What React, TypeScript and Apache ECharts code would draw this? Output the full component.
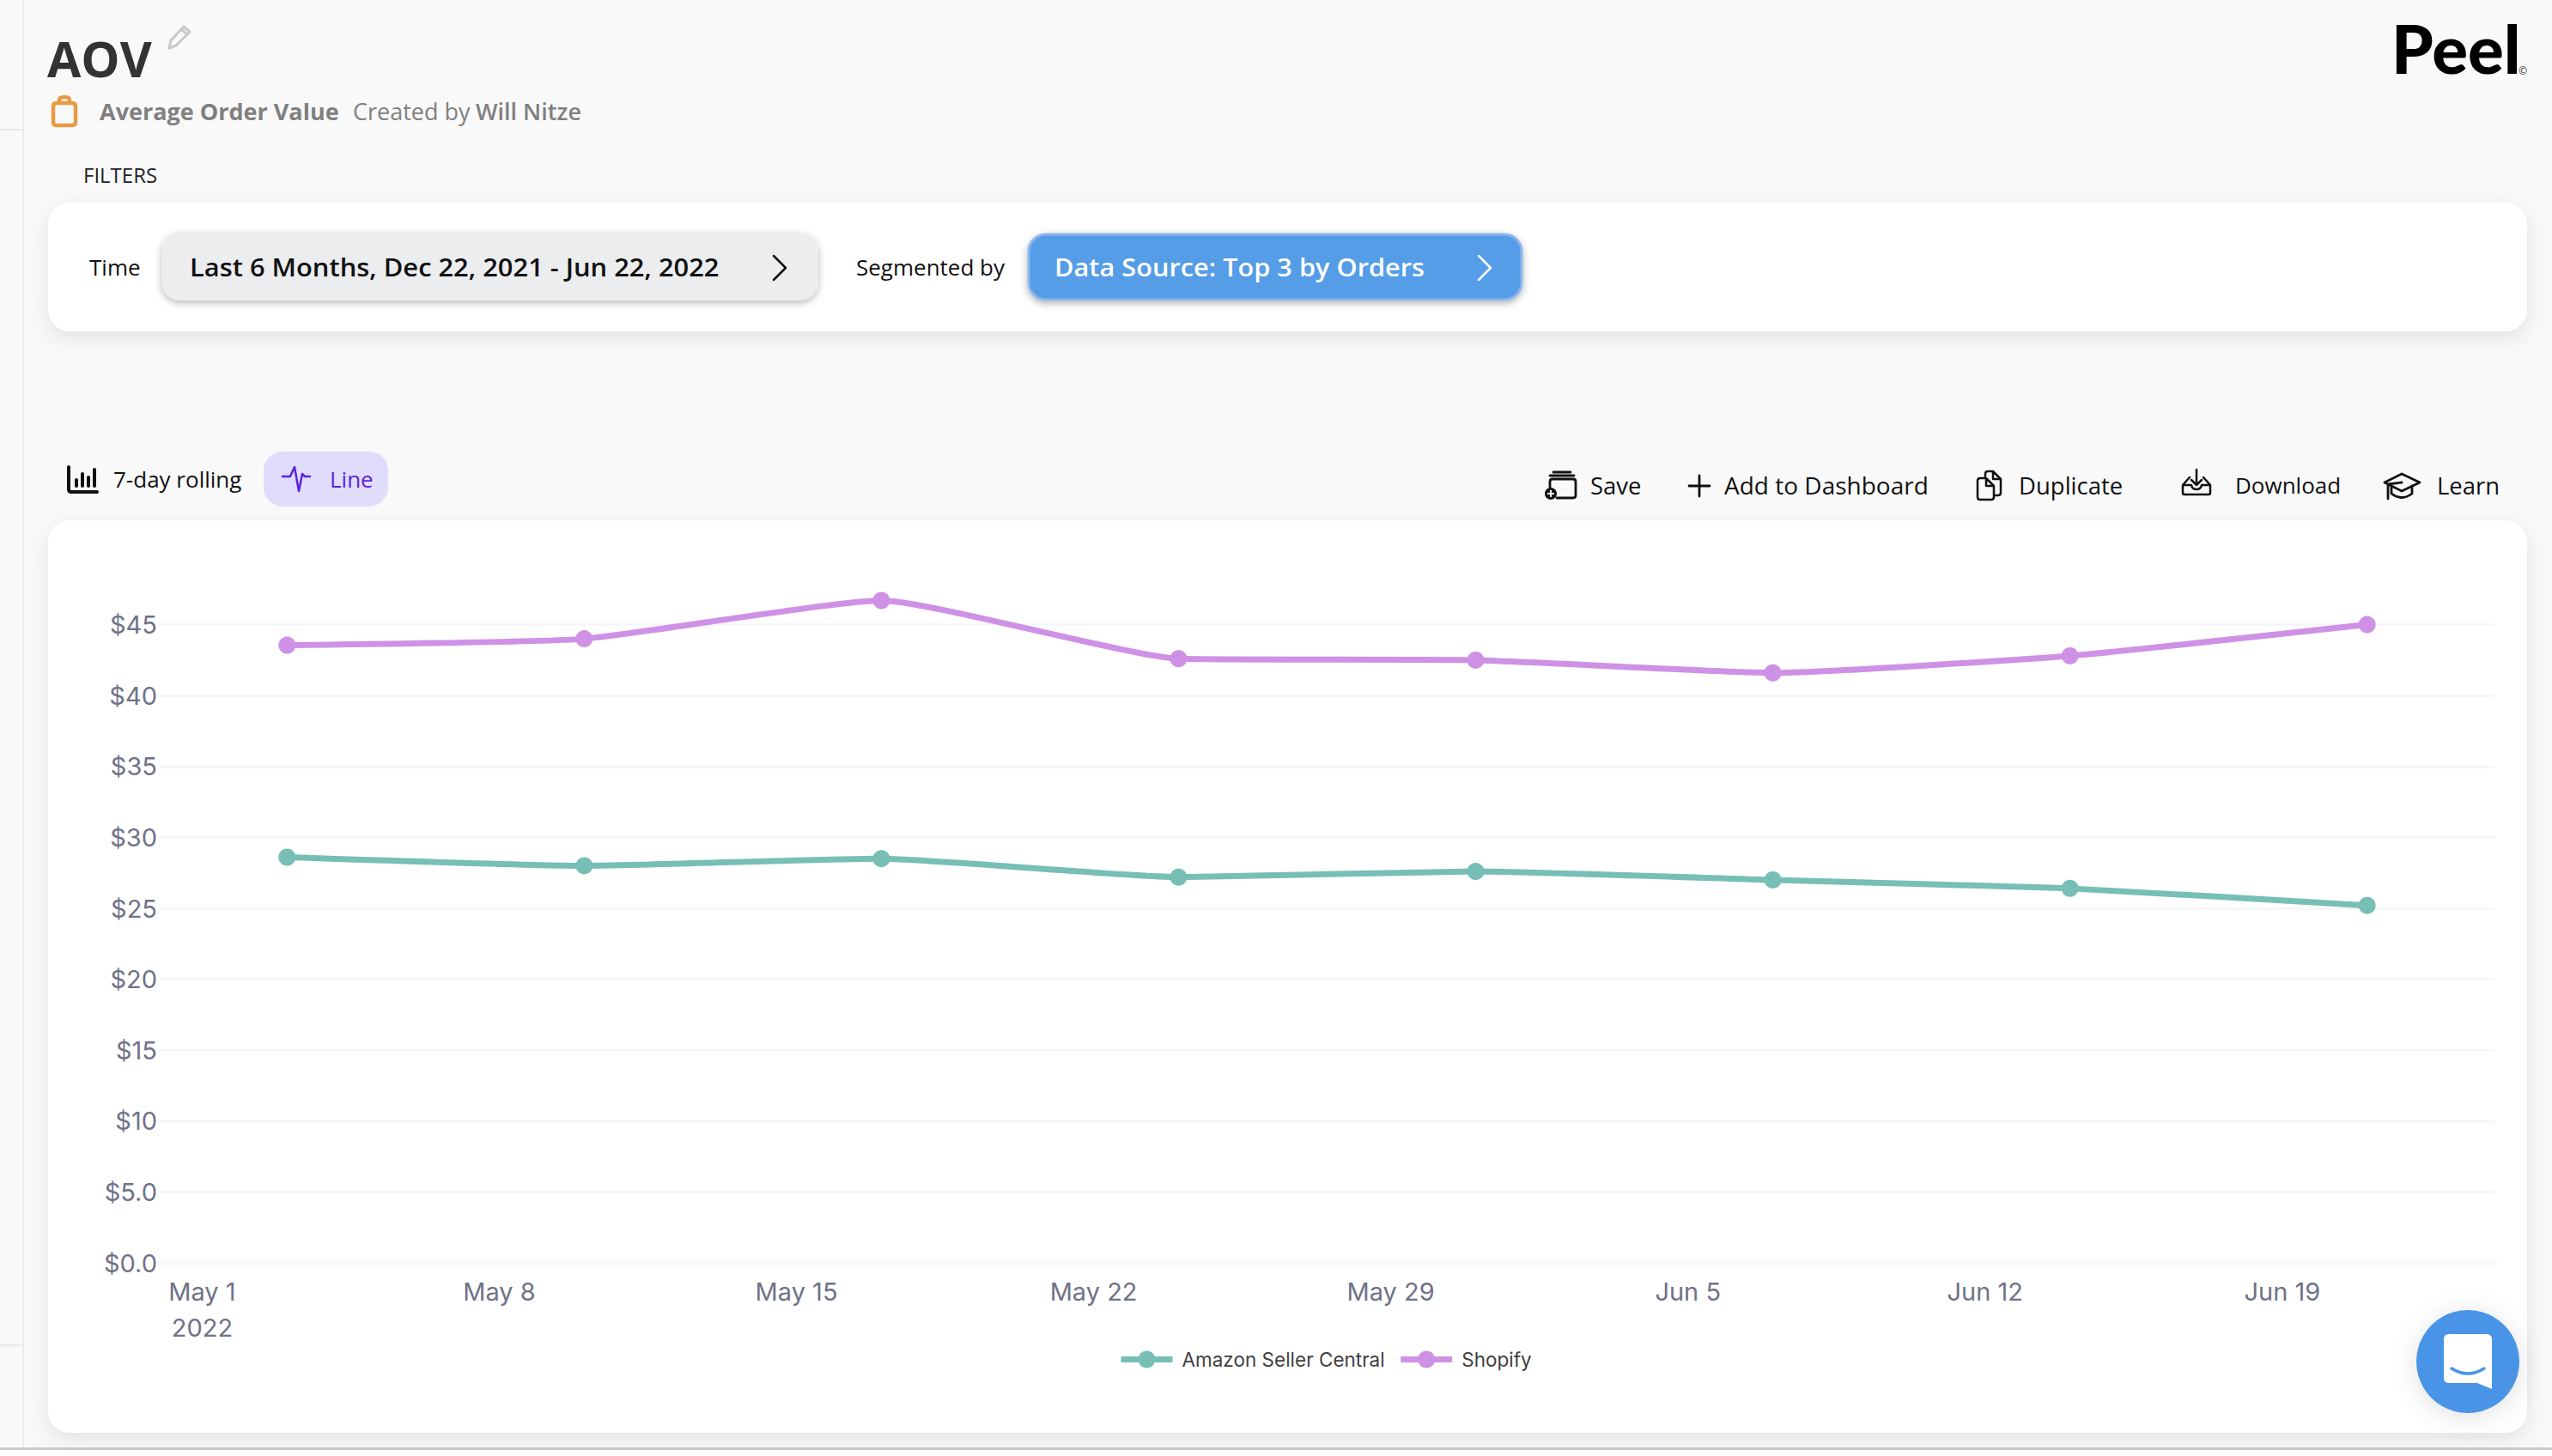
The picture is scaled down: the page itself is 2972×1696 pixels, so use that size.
import React, { useEffect, useRef } from "react";
import * as echarts from "echarts";

const pointDates = ["2022-05-03", "2022-05-10", "2022-05-17", "2022-05-24", "2022-05-31", "2022-06-07", "2022-06-14", "2022-06-21"];
const amazonValues = [28.6, 28.0, 28.5, 27.2, 27.6, 27.0, 26.4, 25.2];
const shopifyValues = [43.55, 44.0, 46.7, 42.6, 42.5, 41.6, 42.8, 45.0];
const tickDates = ["2022-05-01", "2022-05-08", "2022-05-15", "2022-05-22", "2022-05-29", "2022-06-05", "2022-06-12", "2022-06-19"];
const tickLabels = ["May 1\n2022", "May 8", "May 15", "May 22", "May 29", "Jun 5", "Jun 12", "Jun 19"];
const seriesNames = ["Amazon Seller Central", "Shopify"];
const seriesColors = ["#77bfb4", "#cf91e6"];

const day = (d: string) => (new Date(d + "T00:00:00Z").getTime() - Date.UTC(2022, 4, 1)) / 86400000;

const icons: Record<string, string> = {
  bag: "M7 9 H25 Q29 9 29 13 V31 Q29 35 25 35 H7 Q3 35 3 31 V13 Q3 9 7 9 Z M10 9 V6 Q10 2 16 2 Q22 2 22 6 V9",
  pencil: "M2 27 L4 18 L19 2 L26 8 L10 24 Z M16 5 L23 11",
  chevron: "M0 0 L14 14 L0 28",
  bars: "M2 0 V26 Q2 29 5 29 H35 M11 15 V22 M18 8 V22 M25 12 V22 M32 3 V22",
  pulse: "M0 14 H9 L14 3 L19 31 L23 11 L26 14 H32",
  save: "M10 1 H30 M6 5 H34 M6 28 V12 Q6 9 9 9 H33 Q36 9 36 12 V28 Q36 31 33 31 H14",
  plus: "M12 0 V24 M0 12 H24",
  dup: "M10 9 V4 Q10 1 13 1 H19 L28 10 V26 Q28 29 25 29 H21 M4 9 H11 L20 18 V31 Q20 34 17 34 H4 Q1 34 1 31 V12 Q1 9 4 9 Z M11 9 V18 H20 M19 1 V10 H28",
  download: "M17 0 V18 M11 12 L17 18 L23 12 M9 9 L1 18 V27 Q1 29 3 29 H31 Q33 29 33 27 V18 L25 9 M1 18 H11 Q12 23 17 23 Q22 23 23 18 H33",
  learn: "M21 1 L42 11 L21 21 L1 11 Z M9 15 V24 Q21 33 33 24 V15 M21 11 L5 13 V30",
  bubble: "M6 0 H50 Q56 0 56 6 V64 L39 57 H6 Q0 57 0 51 V6 Q0 0 6 0 Z",
  smile: "M9 40 Q28 52 47 40",
};
Object.keys(icons).forEach((k) => {
  echarts.graphic.registerShape("icon_" + k, echarts.graphic.extendPath(icons[k], {}) as any);
});

const OPEN = "'Open Sans'";

function txt(text: string, x: number, y: number, size: number, fill: string, weight: any = 400, extra: any = {}) {
  const { scaleX, family, ...rest } = extra;
  return {
    type: "text", x, y, z: 5, scaleX: scaleX ?? 1,
    style: { text, x: 0, y: 0, fill, fontSize: size, fontWeight: weight, fontFamily: family ?? OPEN, textVerticalAlign: "middle", textAlign: "left", ...rest },
  };
}
function icon(name: string, x: number, y: number, stroke: string, lineWidth = 2.5, z = 5, fill = "none") {
  return { type: "icon_" + name, x, y, z, style: { fill, stroke, lineWidth, lineCap: "round", lineJoin: "round" } };
}
function card(x: number, y: number, w: number, h: number, r: number, fill: string, blur = 24, sc = "rgba(0,0,0,0.09)", oy = 8) {
  return { type: "rect", z: -10, shape: { x, y, width: w, height: h, r }, style: { fill, shadowBlur: blur, shadowColor: sc, shadowOffsetY: oy } };
}

const graphics: any[] = [
  { type: "rect", z: -20, shape: { x: 26, y: 0, width: 2, height: 1686 }, style: { fill: "#ececec" } },
  { type: "rect", z: -20, shape: { x: 0, y: 150, width: 27, height: 2 }, style: { fill: "#e8e8e8" } },
  { type: "rect", z: -20, shape: { x: 0, y: 1566, width: 27, height: 2 }, style: { fill: "#e8e8e8" } },
  { type: "rect", z: -20, shape: { x: 0, y: 1686, width: 2972, height: 10 }, style: { fill: "#ffffff" } },
  { type: "rect", z: -20, shape: { x: 0, y: 1686, width: 2972, height: 3 }, style: { fill: "#cccccc" } },
  txt("AOV", 55, 68, 57, "#333333", 700),
  icon("pencil", 195, 29, "#c8c8c8", 3),
  icon("bag", 59, 111, "#e89b45", 4.5),
  txt("Average Order Value", 116, 129, 27, "#808080", 700),
  txt("Created by", 411, 129, 27, "#808080", 500),
  txt("Will Nitze", 554, 129, 27, "#808080", 600),
  txt("FILTERS", 97, 203, 24, "#222222", 500),
  txt("Peel", 2785, 56, 78, "#000000", 900, { family: "Lato" }),
  txt("©", 2933, 82, 12, "#333333", 400),
  card(56, 236, 2887, 150, 26, "#ffffff"),
  txt("Time", 104, 311, 26, "#111111"),
  { type: "rect", z: -5, shape: { x: 188, y: 271, width: 765, height: 79, r: 22 }, style: { fill: "#ecedef", shadowBlur: 8, shadowColor: "rgba(0,0,0,0.28)", shadowOffsetY: 3 } },
  txt("Last 6 Months, Dec 22, 2021 - Jun 22, 2022", 221, 311, 29, "#111111", 600, { scaleX: 1.065 }),
  icon("chevron", 901, 298, "#111111", 2.5),
  txt("Segmented by", 997, 311, 26, "#111111"),
  { type: "rect", z: -5, shape: { x: 1198, y: 273, width: 574, height: 76, r: 20 }, style: { fill: "#559de6", stroke: "#8db5ec", lineWidth: 3, shadowBlur: 8, shadowColor: "rgba(0,0,0,0.3)", shadowOffsetY: 3 } },
  txt("Data Source: Top 3 by Orders", 1228, 311, 29, "#ffffff", 600, { scaleX: 1.06 }),
  icon("chevron", 1722, 298, "#ffffff", 2.5),
  icon("bars", 78, 544, "#111111", 4),
  txt("7-day rolling", 132, 558, 26, "#111111"),
  { type: "rect", z: -5, shape: { x: 307, y: 526, width: 145, height: 64, r: 22 }, style: { fill: "#e0dcfb" } },
  icon("pulse", 329, 541, "#5b25d9", 2.5),
  txt("Line", 384, 558, 26, "#5b25d9"),
  icon("save", 1799, 549, "#111111", 2.8),
  { type: "circle", z: 6, shape: { cx: 1806, cy: 575, r: 7 }, style: { fill: "#111111" } },
  { type: "rect", z: 7, shape: { x: 1802, y: 574, width: 8, height: 2 }, style: { fill: "#ffffff" } },
  { type: "rect", z: 7, shape: { x: 1805, y: 571, width: 2, height: 8 }, style: { fill: "#ffffff" } },
  txt("Save", 1852, 565, 27.5, "#111111"),
  icon("plus", 1967, 554, "#111111", 2.8),
  txt("Add to Dashboard", 2008, 565, 28, "#111111"),
  icon("dup", 2302, 548, "#111111", 2.5),
  txt("Duplicate", 2351, 565, 27.5, "#111111"),
  icon("download", 2541, 547, "#111111", 2.5),
  txt("Download", 2603, 565, 26, "#111111"),
  icon("learn", 2776, 551, "#111111", 2.8),
  txt("Learn", 2838, 565, 27.5, "#111111"),
  card(56, 606, 2887, 1063, 26, "#ffffff"),
  { type: "circle", z: 50, shape: { cx: 2874, cy: 1586, r: 60 }, style: { fill: "#4a94e6", shadowBlur: 30, shadowColor: "rgba(0,0,0,0.12)", shadowOffsetY: 4 } },
  { type: "icon_bubble", x: 2846, y: 1554, z: 51, style: { fill: "#ffffff" } },
  { type: "icon_smile", x: 2846, y: 1554, z: 52, style: { fill: "none", stroke: "#4a94e6", lineWidth: 3.5, lineCap: "round" } },
];

export default function App() {
  const ref = useRef<HTMLDivElement>(null);
  useEffect(() => {
    document.body.style.margin = "0";
    const chart = echarts.init(ref.current!, undefined, { renderer: "svg" });
    const tickDays = tickDates.map(day);
    chart.setOption({
      animation: false,
      backgroundColor: "#f9f9f9",
      textStyle: { fontFamily: "Inter" },
      grid: { left: 186, right: 67, top: 645, bottom: 225, containLabel: false },
      xAxis: {
        type: "value",
        min: day("2022-04-30"),
        max: day("2022-06-24"),
        offset: 3,
        axisLine: { show: true, lineStyle: { color: "#f9faff", width: 7 } },
        axisTick: { show: false },
        splitLine: { show: false },
        axisLabel: {
          customValues: tickDays,
          hideOverlap: false,
          margin: 9,
          color: "#6f7287",
          fontFamily: "Inter",
          fontSize: 29,
          lineHeight: 42,
          align: "center",
          formatter: (v: number) => tickLabels[tickDays.indexOf(v)] ?? "",
        },
      },
      yAxis: {
        type: "value",
        min: 0,
        max: 50,
        interval: 5,
        axisLine: { show: false },
        axisTick: { show: false },
        splitLine: { show: true, showMaxLine: false, lineStyle: { color: "#f4f5fb", width: 2.5 } },
        axisLabel: {
          showMaxLabel: false,
          margin: 3,
          color: "#6f7287",
          fontFamily: "Inter",
          fontSize: 29,
          formatter: (v: number) => "$" + (v < 10 ? v.toFixed(1) : String(v)),
        },
      },
      legend: {
        left: 1302,
        top: 1572,
        padding: 0,
        itemWidth: 60,
        itemHeight: 25,
        itemGap: 15,
        data: seriesNames,
        textStyle: { color: "#3f3f3f", fontFamily: "Inter", fontSize: 22.5, padding: [3, 0, 0, 6] },
        lineStyle: { width: 7 },
      },
      series: [amazonValues, shopifyValues].map((vals, i) => ({
        type: "line",
        name: seriesNames[i],
        data: pointDates.map((d, j) => [day(d), vals[j]]),
        smooth: 0.15,
        symbol: "circle",
        symbolSize: 20,
        showSymbol: true,
        itemStyle: { color: seriesColors[i] },
        lineStyle: { color: seriesColors[i], width: 7 },
      })),
      graphic: { elements: graphics },
    });
    return () => chart.dispose();
  }, []);
  return <div ref={ref} style={{ position: "absolute", left: 0, top: 0, width: 2972, height: 1696 }} />;
}
